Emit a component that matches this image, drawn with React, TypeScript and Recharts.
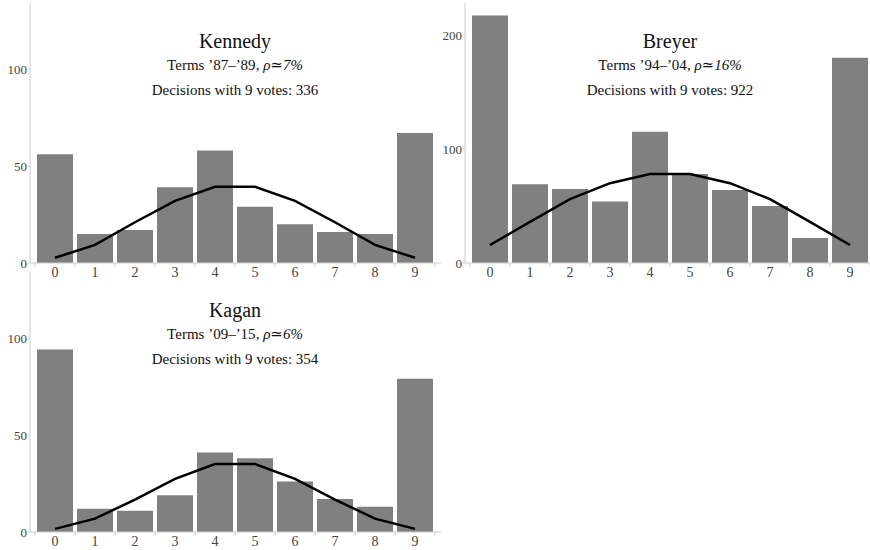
import React from 'react';
import { ComposedChart, Bar, Line, XAxis, YAxis } from 'recharts';

const categories = ['0', '1', '2', '3', '4', '5', '6', '7', '8', '9'];

const kennedyVotes = [56, 15, 17, 39, 58, 29, 20, 16, 15, 67];
const kennedyExpected = [2.7, 9.3, 21, 32, 39.3, 39.3, 32, 21, 9.3, 2.7];

const breyerVotes = [217, 69, 65, 54, 115, 78, 64, 50, 22, 180];
const breyerExpected = [15.8, 36, 56, 70, 78, 78, 70, 56, 36, 15.8];

const kaganVotes = [94, 12, 11, 19, 41, 38, 26, 17, 13, 79];
const kaganExpected = [1.6, 6.9, 16.7, 27.4, 35, 35, 27.4, 16.7, 6.9, 1.6];

const kennedyTicks = [0, 50, 100];
const breyerTicks = [0, 100, 200];
const kaganTicks = [0, 50, 100];

const FONT = '"Liberation Serif", "DejaVu Serif", serif';

function build(votes: number[], expected: number[]) {
  return categories.map((c, i) => ({ cat: c, votes: votes[i], expected: expected[i] }));
}

const XTick = (props: any) => {
  const { x, y, payload } = props;
  return (
    <g>
      <line x1={x - 20} x2={x - 20} y1={y} y2={y + 4} stroke="#cccccc" />
      {payload.value === '9' && <line x1={x + 20} x2={x + 20} y1={y} y2={y + 4} stroke="#cccccc" />}
      <text x={x} y={y + 14} textAnchor="middle" style={{ fill: '#444' }} fontSize={14} fontFamily={FONT}>
        {payload.value}
      </text>
    </g>
  );
};

type PanelProps = {
  left: number;
  top: number;
  votes: number[];
  expected: number[];
  yMax: number;
  ticks: number[];
};

const Panel = ({ left, top, votes, expected, yMax, ticks }: PanelProps) => (
  <div style={{ position: 'absolute', left, top }}>
    <ComposedChart
      width={441}
      height={283}
      data={build(votes, expected)}
      margin={{ top: 3, right: 0, bottom: 0, left: 0 }}
      barSize={36}
    >
      <XAxis
        dataKey="cat"
        height={20}
        padding={{ left: 5, right: 6 }}
        tickLine={false}
        tickSize={0}
        tickMargin={0}
        interval={0}
        axisLine={{ stroke: '#cccccc' }}
        tick={<XTick />}
      />
      <YAxis
        width={30}
        domain={[0, yMax]}
        ticks={ticks}
        allowDataOverflow
        tickSize={2}
        tickMargin={1}
        axisLine={{ stroke: '#cccccc' }}
        tickLine={{ stroke: '#cccccc' }}
        tick={{ fill: '#444', fontSize: 13, fontFamily: FONT }}
      />
      <Bar dataKey="votes" fill="#808080" isAnimationActive={false} />
      <Line
        dataKey="expected"
        type="linear"
        stroke="#000"
        strokeWidth={2.5}
        dot={false}
        activeDot={false}
        isAnimationActive={false}
      />
    </ComposedChart>
  </div>
);

const Titles = ({ cx, top, name, terms, rho, n }: { cx: number; top: number; name: string; terms: string; rho: string; n: number }) => (
  <g fontFamily={FONT} fill="#111" textAnchor="middle">
    <text x={cx} y={top + 44.5} fontSize={20}>{name}</text>
    <text x={cx} y={top + 67} fontSize={15}>
      {terms}, <tspan fontStyle="italic">{rho}</tspan>
    </text>
    <text x={cx} y={top + 92} fontSize={15}>Decisions with 9 votes: {n}</text>
  </g>
);

export default function App() {
  return (
    <div
      style={{
        position: 'absolute',
        left: 0,
        top: 0,
        width: 870,
        height: 550,
        overflow: 'hidden',
        background: '#fff',
      }}
    >
      <Panel left={0} top={0} votes={kennedyVotes} expected={kennedyExpected} yMax={134} ticks={kennedyTicks} />
      <Panel left={435} top={0} votes={breyerVotes} expected={breyerExpected} yMax={228} ticks={breyerTicks} />
      <Panel left={0} top={269} votes={kaganVotes} expected={kaganExpected} yMax={134} ticks={kaganTicks} />
      <svg
        width={870}
        height={550}
        style={{ position: 'absolute', left: 0, top: 0, pointerEvents: 'none' }}
      >
        <Titles cx={235} top={3} name="Kennedy" terms="Terms ’87–’89" rho="ρ≃7%" n={336} />
        <Titles cx={670} top={3} name="Breyer" terms="Terms ’94–’04" rho="ρ≃16%" n={922} />
        <Titles cx={235} top={272} name="Kagan" terms="Terms ’09–’15" rho="ρ≃6%" n={354} />
      </svg>
    </div>
  );
}
